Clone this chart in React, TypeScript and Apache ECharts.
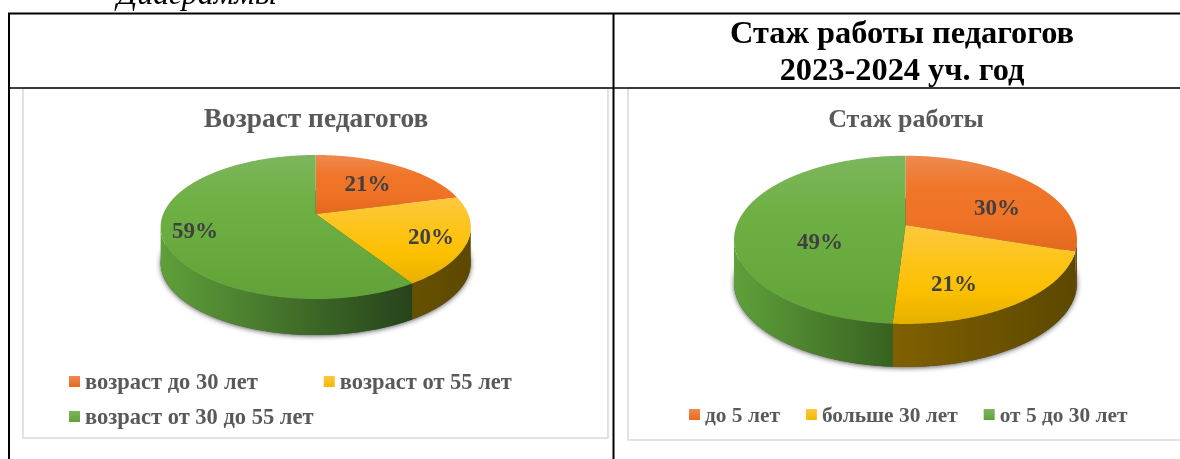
import React, { useEffect, useRef } from "react";
import * as echarts from "echarts";

// ---- data ----
const ageCategories = ["возраст до 30 лет", "возраст от 55 лет", "возраст от 30 до 55 лет"];
const ageValues = [21, 20, 59];
const stajCategories = ["до 5 лет", "больше 30 лет", "от 5 до 30 лет"];
const stajValues = [30, 21, 49];
const tableHeading = ["Стаж работы педагогов", "2023-2024 уч. год"];
const pieTitles = ["Возраст педагогов", "Стаж работы"];
const clippedCaption = "Диаграммы";

// ---- styling and layout ----
const SERIF = '"Liberation Serif", "Times New Roman", serif';
const TOP_STOPS = [
  ["#ee8a50", "#f07528", "#f07226", "#e2691d"],
  ["#fdc83f", "#fdc41c", "#fcc000", "#e6b000"],
  ["#7db65d", "#6fb044", "#68aa3d", "#62a239"],
];
const SWATCH_STOPS = [
  ["#ee8a50", "#e96a1c"],
  ["#fdc83f", "#f4ba00"],
  ["#7db65d", "#62a239"],
];
const PIES = [
  {
    cx: 315.7, cy: 214, a: 69.7, k: 0.1806, R: 152.5, depth: 36,
    labels: [[367.5, 183], [431, 236], [195, 230]],
    sides: [["#8a4412", "#8a4412"], ["#665000", "#5c4800"], ["#5fa03a", "#26431a"]],
  },
  {
    cx: 905.5, cy: 225, a: 81.5, k: 0.1765, R: 168.8, depth: 43,
    labels: [[997, 207], [954, 283], [820, 241]],
    sides: [["#8a4412", "#6b4a08"], ["#806000", "#5c4800"], ["#5fa03a", "#376220"]],
  },
];

const vertical = (c: string[]) => ({
  type: "linear", x: 0, y: 0, x2: 0, y2: 1,
  colorStops: c.map((color, i) => ({ offset: i / (c.length - 1), color })),
});
const horizontal = (c: string[]) => ({
  type: "linear", x: 0, y: 0, x2: 1, y2: 0,
  colorStops: c.map((color, i) => ({ offset: i / (c.length - 1), color })),
});

// Perspective projection of a point on the pie's rim
const rim = (p: (typeof PIES)[number], deg: number, dy = 0): number[] => {
  const t = (deg * Math.PI) / 180;
  const w = 1 + p.k * Math.cos(t);
  return [p.cx + (p.R * Math.sin(t)) / w, p.cy - (p.a * Math.cos(t)) / w + dy];
};

const arcAngles = (from: number, to: number) => {
  const out: number[] = [];
  for (let d = from; d < to; d += 0.5) out.push(d);
  out.push(to);
  return out;
};

const sliceSeries = (names: string[], values: number[], pieIndex: number) => {
  const pie = PIES[pieIndex];
  const total = values.reduce((s, v) => s + v, 0);
  const silhouette = (Math.acos(-pie.k) * 180) / Math.PI;
  let acc = 0;
  return names.map((name, i) => {
    const start = (acc / total) * 360;
    acc += values[i];
    const end = (acc / total) * 360;
    return {
      type: "custom",
      name,
      coordinateSystem: "none",
      silent: true,
      z: 3 + i,
      itemStyle: { color: vertical(SWATCH_STOPS[i]) },
      data: [[values[i]]],
      renderItem: () => {
        const children: any[] = [];
        if (i === 0) {
          const base = arcAngles(0, 360).map((d) => rim(pie, d, pie.depth));
          children.push({
            type: "polygon",
            shape: { points: base },
            style: {
              fill: "#4a4a4a",
              shadowBlur: 5,
              shadowColor: "rgba(40,40,40,0.75)",
              shadowOffsetY: 1,
            },
          });
        }
        const a0 = Math.max(start, silhouette);
        const a1 = Math.min(end, 360 - silhouette);
        if (a1 > a0) {
          const angles = arcAngles(a0, a1);
          const pts = [
            ...angles.map((d) => rim(pie, d)),
            ...angles.slice().reverse().map((d) => rim(pie, d, pie.depth)),
          ];
          children.push({
            type: "polygon",
            shape: { points: pts },
            style: { fill: horizontal(pie.sides[i]) },
          });
        }
        const topPts = [[pie.cx, pie.cy], ...arcAngles(start, end).map((d) => rim(pie, d))];
        children.push({
          type: "polygon",
          shape: { points: topPts },
          style: { fill: vertical(TOP_STOPS[i]) },
        });
        children.push({
          type: "text",
          z2: 20,
          style: {
            text: `${values[i]}%`,
            x: pie.labels[i][0],
            y: pie.labels[i][1],
            align: "center",
            verticalAlign: "middle",
            fill: "#404040",
            font: `bold 23px ${SERIF}`,
          },
        });
        return { type: "group", children };
      },
    };
  });
};

const legendBase = {
  orient: "horizontal",
  padding: 0,
  itemWidth: 11,
  itemHeight: 11,
  icon: "rect",
  selectedMode: false,
};
const legendText = (fontSize: number) => ({
  fontFamily: SERIF, fontWeight: "bold", fontSize, color: "#595959",
});

const line = (x1: number, y1: number, x2: number, y2: number, w: number) => ({
  type: "line",
  z: 10,
  shape: { x1, y1, x2, y2 },
  style: { stroke: "#000", lineWidth: w },
});
const panel = (x: number, y: number, width: number, height: number) => ({
  type: "rect",
  z: 0,
  shape: { x, y, width, height },
  style: { fill: "#fff", stroke: "#d9d9d9", lineWidth: 1.5 },
});

export default function App() {
  const ref = useRef<HTMLDivElement>(null);
  useEffect(() => {
    if (!ref.current) return;
    const chart = echarts.init(ref.current, undefined, { renderer: "svg" });
    chart.setOption({
      animation: false,
      backgroundColor: "#fff",
      title: [
        {
          text: pieTitles[0], left: 311, top: 99, textAlign: "center",
          textStyle: { fontFamily: SERIF, fontWeight: "bold", fontSize: 27.4, color: "#595959" },
        },
        {
          text: pieTitles[1], left: 901, top: 100, textAlign: "center",
          textStyle: { fontFamily: SERIF, fontWeight: "bold", fontSize: 26, color: "#595959" },
        },
        {
          text: tableHeading[0], left: 897, top: 11, textAlign: "center",
          textStyle: { fontFamily: SERIF, fontWeight: "bold", fontSize: 32.4, color: "#000" },
        },
        {
          text: tableHeading[1], left: 897, top: 48, textAlign: "center",
          textStyle: { fontFamily: SERIF, fontWeight: "bold", fontSize: 32.4, color: "#000" },
        },
        {
          text: clippedCaption, left: 112, top: -28,
          textStyle: { fontFamily: SERIF, fontStyle: "italic", fontWeight: "normal", fontSize: 32, color: "#000" },
        },
      ],
      legend: [
        { ...legendBase, left: 69, top: 370, itemGap: 66, data: ageCategories.slice(0, 2), textStyle: legendText(22.5) },
        { ...legendBase, left: 69, top: 405, data: ageCategories.slice(2), textStyle: legendText(22.5) },
        { ...legendBase, left: 689, top: 404, itemGap: 26, data: stajCategories, textStyle: legendText(21.4) },
      ],
      graphic: [
        panel(23, 88, 585, 350),
        panel(628, 88, 600, 352),
        line(8, 13.5, 1180, 13.5, 2),
        line(8, 88, 1180, 88, 1.5),
        line(9, 13, 9, 459, 2),
        line(613.5, 13, 613.5, 459, 2),
      ],
      series: [...sliceSeries(ageCategories, ageValues, 0), ...sliceSeries(stajCategories, stajValues, 1)],
    });
    return () => chart.dispose();
  }, []);
  return (
    <div
      ref={ref}
      style={{ position: "fixed", left: 0, top: 0, width: 1180, height: 459, filter: "blur(0.35px)" }}
    />
  );
}
